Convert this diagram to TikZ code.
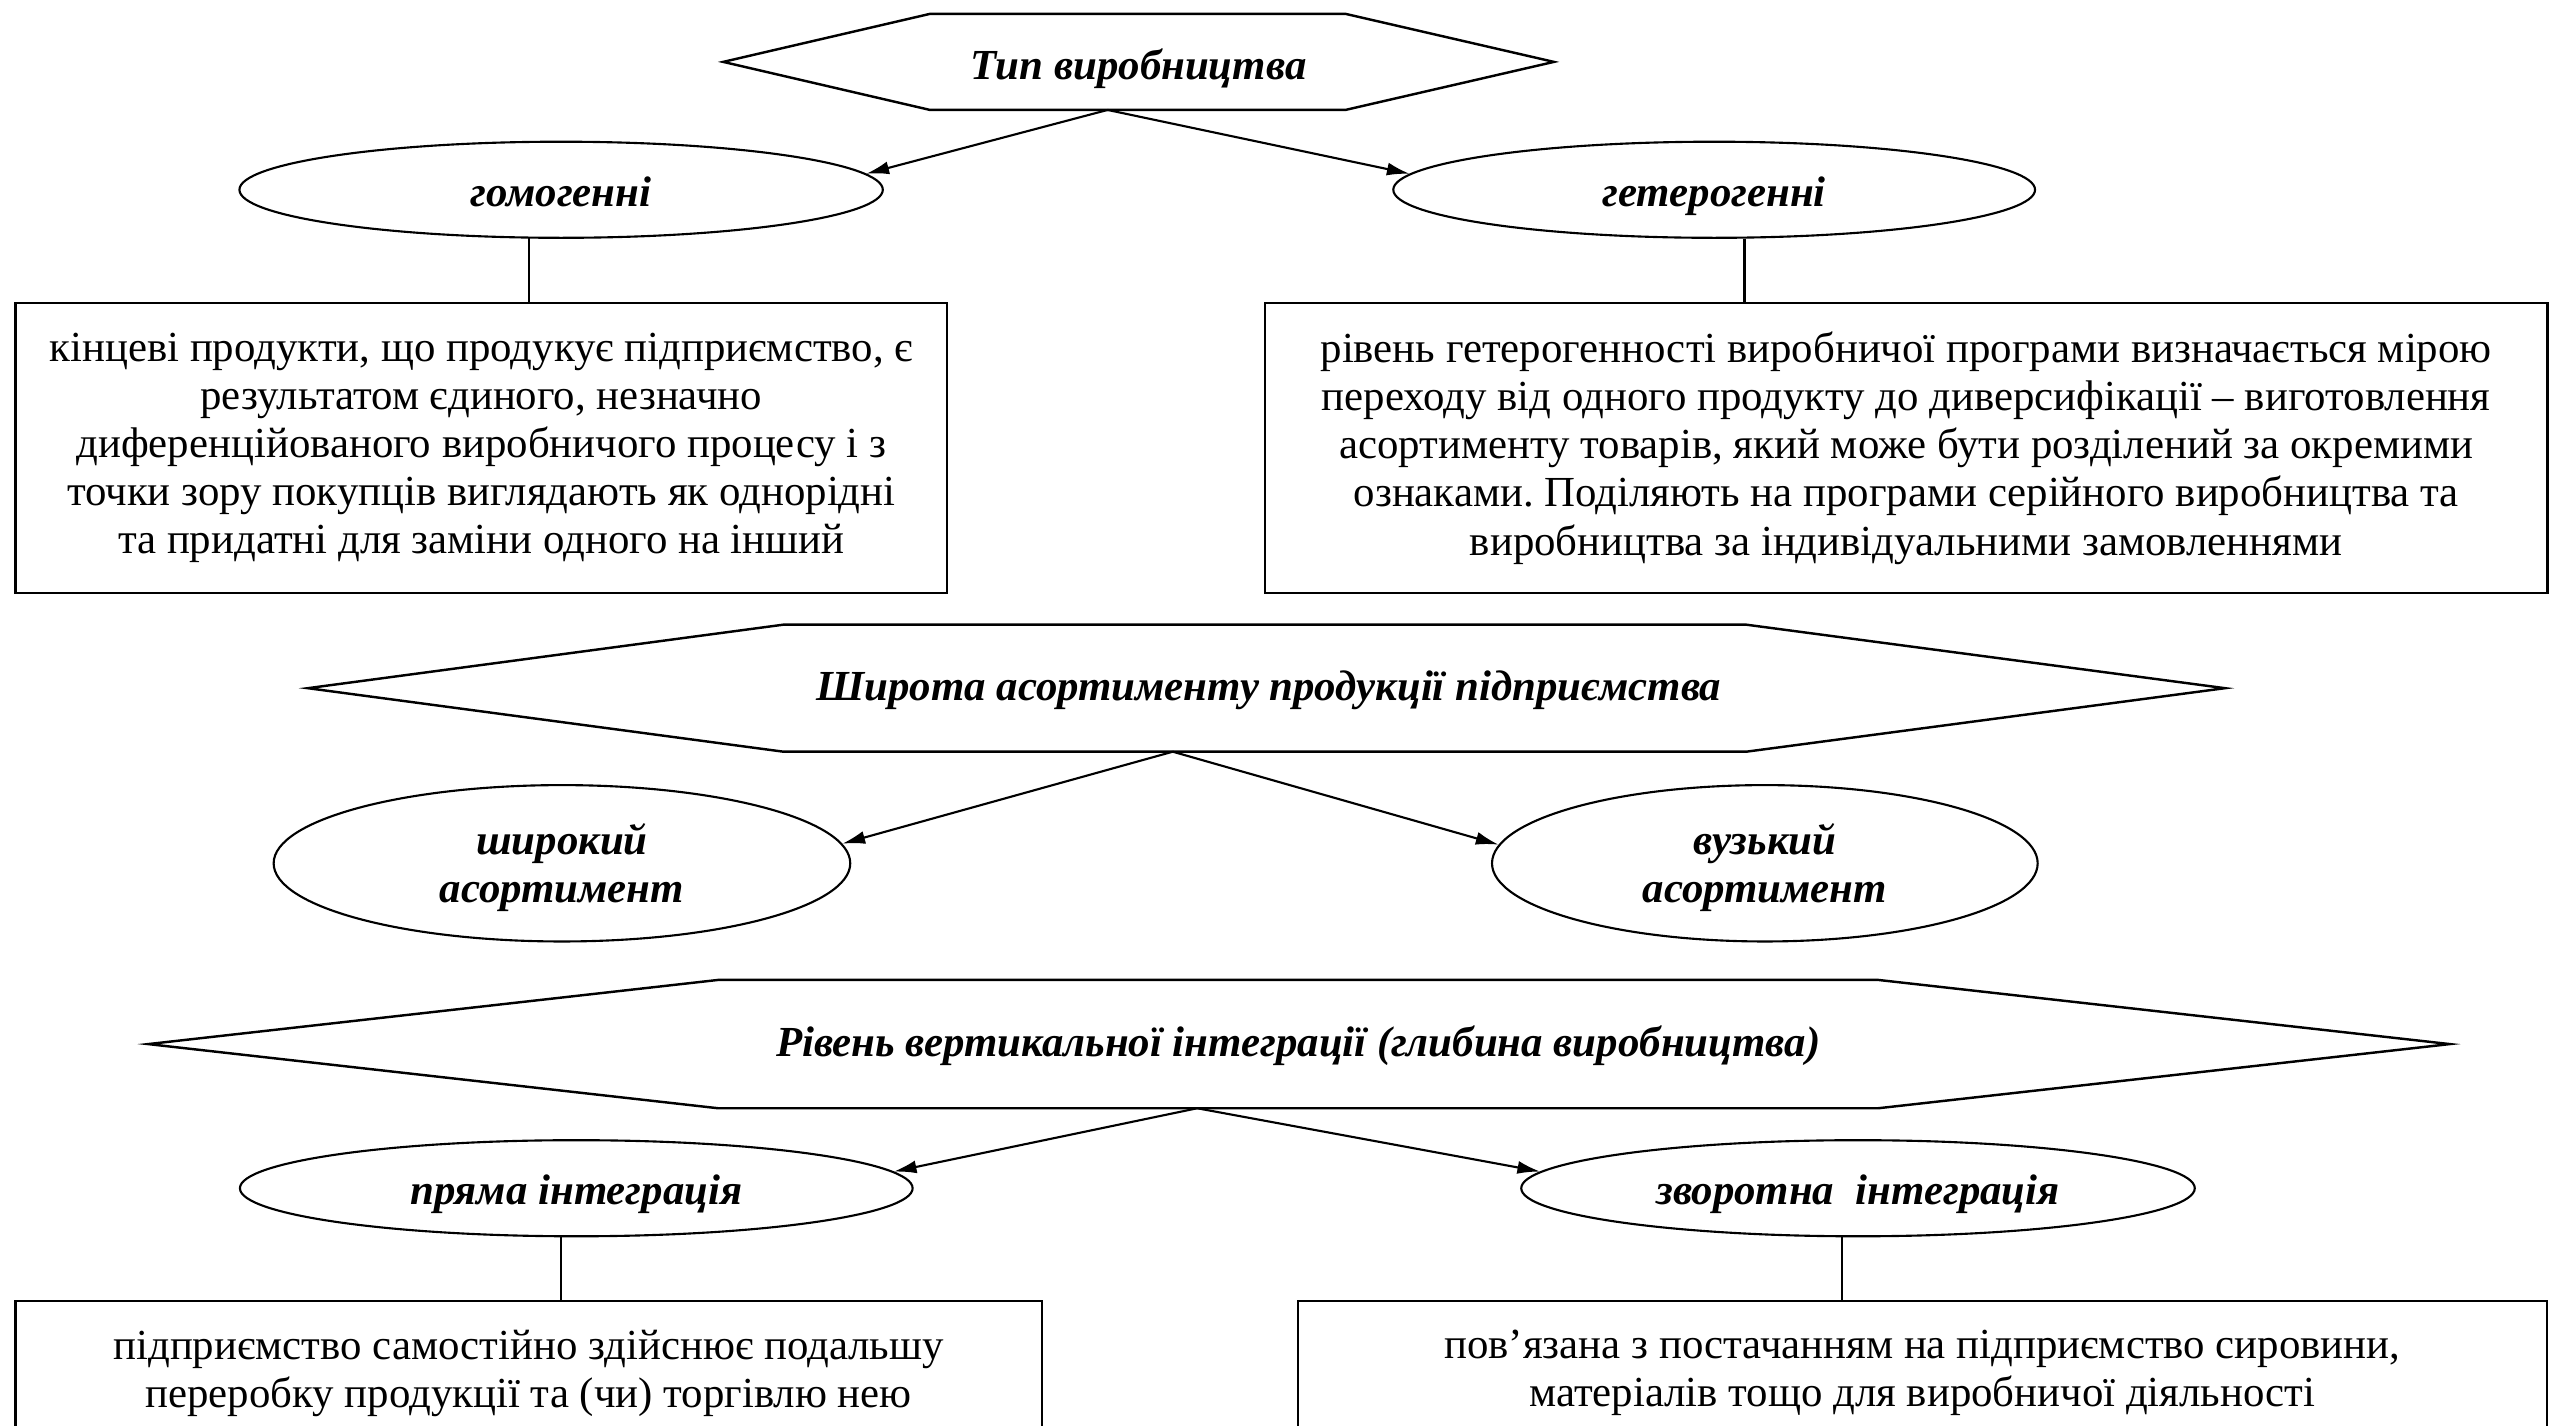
\documentclass[tikz,border=0pt]{standalone}
\usepackage{fontspec}
\setmainfont{Liberation Serif}
\usetikzlibrary{shapes.geometric,arrows.meta,calc}
\frenchspacing
\begin{document}
\begin{tikzpicture}[x=1pt,y=-1pt,
  hdr/.style={font=\fontsize{26.3}{29.6}\selectfont\bfseries\itshape, inner sep=0pt},
  frame/.style={draw=none, rectangle, inner sep=0pt, outer sep=0pt},
  hexline/.style={line width=1.5pt, line join=miter},
  el/.style={ellipse, draw, line width=1.3pt, inner sep=0pt, align=center, font=\fontsize{26.3}{29.6}\selectfont\bfseries\itshape},
  el1/.style={el, text height=20pt, text depth=0pt},
  el2/.style={el, text height=48pt, text depth=0pt},
  bx/.style={rectangle, draw, line width=1.3pt, inner sep=0pt, align=center, font=\fontsize{26.3}{29.6}\selectfont},
  arr/.style={line width=1.3pt, -{Latex[length=14pt,width=8pt]}},
  ln/.style={line width=1.3pt}
]
\useasboundingbox (0,0) rectangle (1568,875);
% ---------- level 1
\node[frame, minimum width=255pt, minimum height=59pt] (h1) at (698.5,38) {};
\draw[hexline] (h1.north west) -- (h1.north east) -- ($(h1.east)+(128,0)$) -- (h1.south east) -- (h1.south west) -- ($(h1.west)+(-127,0)$) -- cycle;
\node[hdr] (t1) at (699,42) {Тип виробництва};
\node[el1, minimum width=395pt, minimum height=59pt] (e1) at (344.5,116.5) {гомогенні};
\node[el1, minimum width=394pt, minimum height=59pt] (e2) at (1052.4,116.5) {гетерогенні};
\coordinate (s1) at (680,67.5);
\draw[arr] (s1) -- (e1.3);
\draw[arr] (s1) -- (e2.177);
\node[bx, minimum width=572pt, minimum height=178pt] (b1) at (295.5,275) {кінцеві продукти, що продукує підприємство, є\\результатом єдиного, незначно\\диференційованого виробничого процесу і з\\точки зору покупців виглядають як однорідні\\та придатні для заміни одного на інший};
\node[bx, minimum width=787.4pt, minimum height=178pt] (b2) at (1170.3,275) {рівень гетерогенності виробничої програми визначається мірою\\переходу від одного продукту до диверсифікації – виготовлення\\асортименту товарів, який може бути розділений за окремими\\ознаками. Поділяють на програми серійного виробництва та\\виробництва за індивідуальними замовленнями};
\coordinate (c1) at (325,146);
\draw[ln] (c1) -- (c1 |- b1.north);
\coordinate (c2) at (1071,146.5);
\draw[ln] (c2) -- (c2 |- b2.north);
% ---------- level 2
\node[frame, minimum width=591pt, minimum height=78pt] (h2) at (776.5,422.5) {};
\draw[hexline] (h2.north west) -- (h2.north east) -- ($(h2.east)+(294,0)$) -- (h2.south east) -- (h2.south west) -- ($(h2.west)+(-292,0)$) -- cycle;
\node[hdr] (t2) at (779,424) {Широта асортименту продукції підприємства};
\node[el2, minimum width=354pt, minimum height=96pt] (e3) at (345,530) {широкий\\асортимент};
\node[el2, minimum width=335pt, minimum height=96pt] (e4) at (1083.5,530) {вузький\\асортимент};
\coordinate (s2) at (720,461.5);
\draw[arr] (s2) -- (e3.4);
\draw[arr] (s2) -- (e4.176);
% ---------- level 3
\node[frame, minimum width=712pt, minimum height=78.8pt] (h3) at (797,641) {};
\draw[hexline] (h3.north west) -- (h3.north east) -- ($(h3.east)+(351,0)$) -- (h3.south east) -- (h3.south west) -- ($(h3.west)+(-350,0)$) -- cycle;
\node[hdr] (t3) at (797,642) {Рівень вертикальної інтеграції (глибина виробництва)};
\node[el1, minimum width=413pt, minimum height=59pt] (e5) at (353.8,729.5) {пряма інтеграція};
\node[el1, minimum width=413.5pt, minimum height=59pt] (e6) at (1140.7,729.5) {зворотна~~інтеграція};
\coordinate (s3) at (735,680.4);
\draw[arr] (s3) -- (e5.3);
\draw[arr] (s3) -- (e6.177);
\node[bx, anchor=north, minimum width=630pt, inner ysep=18pt] (b5) at (324.5,798) {підприємство самостійно здійснює подальшу\\переробку продукції та (чи) торгівлю нею};
\node[bx, anchor=north, minimum width=767pt, inner ysep=18pt] (b6) at (1180.2,798) {пов’язана з постачанням на підприємство сировини,\\матеріалів тощо для виробничої діяльності};
\coordinate (c3) at (344.5,759);
\draw[ln] (c3) -- (c3 |- b5.north);
\coordinate (c4) at (1130.8,759);
\draw[ln] (c4) -- (c4 |- b6.north);
\end{tikzpicture}
\end{document}
